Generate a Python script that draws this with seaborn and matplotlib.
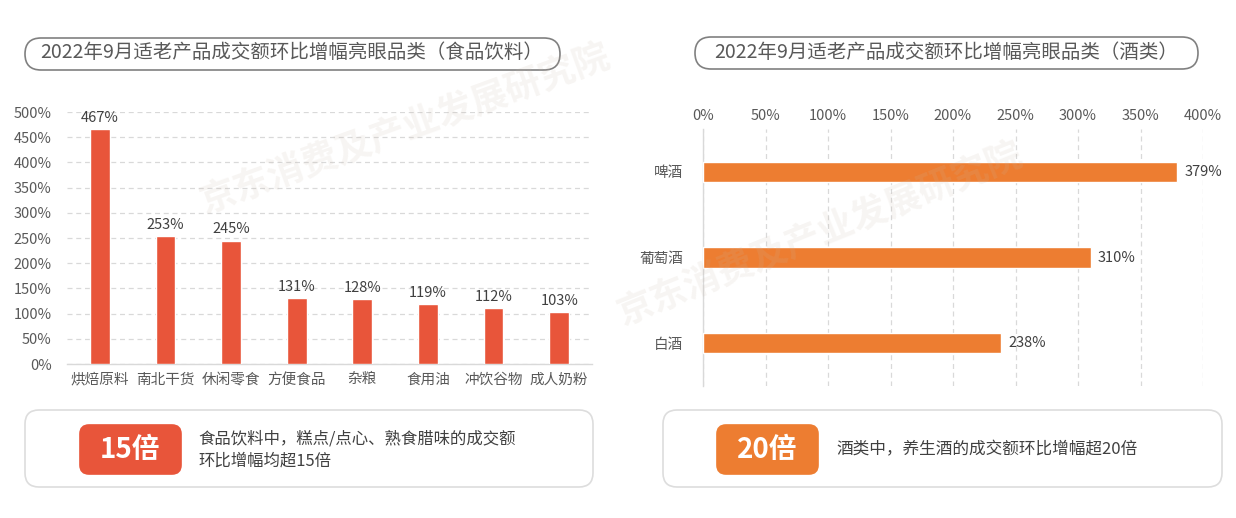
import matplotlib
matplotlib.use("Agg")
import matplotlib.pyplot as plt
from matplotlib.patches import FancyBboxPatch
from matplotlib.ticker import FuncFormatter, MultipleLocator
import seaborn as sns
import pandas as pd

# ---------------- data ----------------
food_categories = ["烘焙原料", "南北干货", "休闲零食", "方便食品", "杂粮", "食用油", "冲饮谷物", "成人奶粉"]
food_values = [467, 253, 245, 131, 128, 119, 112, 103]
wine_categories = ["啤酒", "葡萄酒", "白酒"]
wine_values = [379, 310, 238]
title_left = "2022年9月适老产品成交额环比增幅亮眼品类（食品饮料）"
title_right = "2022年9月适老产品成交额环比增幅亮眼品类（酒类）"
badge_left = "15倍"
badge_right = "20倍"
note_left = "食品饮料中，糕点/点心、熟食腊味的成交额\n环比增幅均超15倍"
note_right = "酒类中，养生酒的成交额环比增幅超20倍"
watermark = "京东消费及产业发展研究院"

RED = "#E8553A"
ORANGE = "#ED7D31"
TXT = "#595959"
GRID = "#D9D9D9"

sns.set_theme(style="white")
plt.rcParams["font.family"] = ["Noto Sans CJK SC", "DejaVu Sans"]

W, H = 1236, 518
fig = plt.figure(figsize=(W / 100, H / 100), dpi=100)
fig.patch.set_facecolor("white")

def fx(px):
    return px / W

def fy(py):
    return 1 - py / H

pct = FuncFormatter(lambda v, p: f"{v:.0f}%")

# ---------------- left chart ----------------
axL = fig.add_axes([fx(67), fy(364), fx(592) - fx(67), fy(112) - fy(364)])
dfL = pd.DataFrame({"cat": food_categories, "val": food_values})
sns.barplot(data=dfL, x="cat", y="val", color=RED, width=0.3, saturation=1, ax=axL, zorder=3)
axL.set_ylim(0, 500)
axL.set_xlim(-0.5, len(food_categories) - 0.5)
axL.yaxis.set_major_locator(MultipleLocator(50))
axL.yaxis.set_major_formatter(pct)
axL.grid(axis="y", color=GRID, linestyle=(0, (4, 3)), linewidth=0.9, zorder=0)
axL.set_xlabel("")
axL.set_ylabel("")
for s in ["top", "right", "left"]:
    axL.spines[s].set_visible(False)
axL.spines["bottom"].set_color(GRID)
axL.spines["bottom"].set_linewidth(1.0)
axL.tick_params(axis="both", length=0, labelsize=10.5, labelcolor=TXT, pad=6)
axL.tick_params(axis="y", pad=11)
for i, v in enumerate(food_values):
    axL.text(i, v + 8, f"{v}%", ha="center", va="bottom", fontsize=10.5, color="#404040", clip_on=False)

# ---------------- right chart ----------------
axR = fig.add_axes([fx(703), fy(386), fx(1203) - fx(703), fy(129) - fy(386)])
dfR = pd.DataFrame({"cat": wine_categories, "val": wine_values})
sns.barplot(data=dfR, x="val", y="cat", orient="h", color=ORANGE, width=0.24, saturation=1, ax=axR, zorder=3)
axR.set_xlim(0, 400)
axR.set_ylim(len(wine_categories) - 0.5, -0.5)
axR.xaxis.set_major_locator(MultipleLocator(50))
axR.xaxis.set_major_formatter(pct)
axR.xaxis.tick_top()
axR.grid(axis="x", color=GRID, linestyle=(0, (4, 3)), linewidth=0.9, zorder=0)
axR.set_xlabel("")
axR.set_ylabel("")
for s in ["top", "right", "bottom"]:
    axR.spines[s].set_visible(False)
axR.spines["left"].set_color(GRID)
axR.spines["left"].set_linewidth(1.0)
axR.tick_params(axis="both", length=0, labelsize=10.5, labelcolor=TXT)
axR.tick_params(axis="x", pad=4)
axR.tick_params(axis="y", pad=14)
for i, v in enumerate(wine_values):
    axR.text(v + 6, i, f"{v}%", ha="left", va="center", fontsize=10.5, color="#404040", clip_on=False)

# ---------------- decorations (pixel overlay) ----------------
ov = fig.add_axes([0, 0, 1, 1], zorder=-1)
ov.set_xlim(0, W)
ov.set_ylim(H, 0)
ov.axis("off")

def rbox(x0, y0, x1, y1, r, ec, fc="none", lw=1.2):
    ov.add_patch(FancyBboxPatch((x0 + r, y0 + r), (x1 - x0) - 2 * r, (y1 - y0) - 2 * r,
                                boxstyle=f"round,pad={r},rounding_size={r}",
                                ec=ec, fc=fc, lw=lw))

# title pills
rbox(25, 38, 560, 70, 16, "#808080")
ov.text(292, 53, title_left, ha="center", va="center", fontsize=14, color=TXT)
rbox(695, 37, 1198, 69, 16, "#808080")
ov.text(946, 52, title_right, ha="center", va="center", fontsize=14, color=TXT)

# bottom note boxes
rbox(25, 410, 593, 487, 14, "#DDDDDD")
rbox(80, 425, 181, 474, 9, RED, RED)
ov.text(130, 450, badge_left, ha="center", va="center", fontsize=20, color="white", fontweight="bold")
ov.text(198, 450, note_left, ha="left", va="center", fontsize=11.8, color="#404040", linespacing=1.45)

rbox(663, 410, 1222, 487, 14, "#DDDDDD")
rbox(717, 425, 818, 474, 9, ORANGE, ORANGE)
ov.text(767, 450, badge_right, ha="center", va="center", fontsize=20, color="white", fontweight="bold")
ov.text(836, 450, note_right, ha="left", va="center", fontsize=12, color="#404040")

# faint watermarks
wm = fig.add_axes([0, 0, 1, 1], zorder=10)
wm.set_xlim(0, W)
wm.set_ylim(H, 0)
wm.axis("off")
wm.patch.set_alpha(0)
wm.text(405, 130, watermark, ha="center", va="center", fontsize=26, color="#C8B8A8", alpha=0.14,
        rotation=20, fontweight="bold")
wm.text(820, 235, watermark, ha="center", va="center", fontsize=26, color="#C8B8A8", alpha=0.14,
        rotation=22, fontweight="bold")

fig.savefig("out.png", dpi=100, facecolor="white")
